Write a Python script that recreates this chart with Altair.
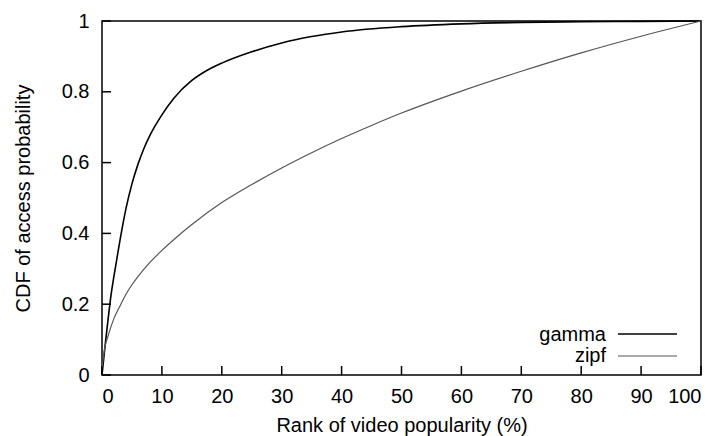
import altair as alt
import pandas as pd

# Data
gamma_x = [0, 0.5, 1, 1.5, 2, 2.5, 3, 4, 5, 6, 7, 8, 10, 12, 15, 17.5, 20, 25, 30, 35, 40, 50, 60, 70, 80, 90, 100]
gamma_y = [0, 0.08, 0.155, 0.225, 0.28, 0.33, 0.38, 0.47, 0.54, 0.595, 0.64, 0.677, 0.735, 0.782, 0.832, 0.86, 0.881, 0.913, 0.938, 0.956, 0.969, 0.984, 0.992, 0.996, 0.998, 0.999, 1.0]

zipf_x = [0, 0.5, 1, 2, 3, 4, 5, 6, 8, 10, 12.5, 15, 20, 25, 30, 35, 40, 45, 50, 60, 70, 80, 90, 100]
zipf_y = [0.02, 0.08, 0.11, 0.16, 0.195, 0.228, 0.255, 0.278, 0.318, 0.352, 0.39, 0.425, 0.487, 0.538, 0.585, 0.628, 0.668, 0.705, 0.74, 0.802, 0.858, 0.91, 0.957, 1.0]

series_names = ["gamma", "zipf"]
series_colors = ["#000000", "#555555"]
x_ticks = [0, 10, 20, 30, 40, 50, 60, 70, 80, 90, 100]
y_ticks = [0, 0.2, 0.4, 0.6, 0.8, 1.0]

W, H = 599, 354
FONT = "Liberation Sans"
FS = 20

df = pd.concat([
    pd.DataFrame({"x": gamma_x, "y": gamma_y, "series": "gamma"}),
    pd.DataFrame({"x": zipf_x, "y": zipf_y, "series": "zipf"}),
])

xscale = alt.Scale(domain=[0, 100], nice=False)
yscale = alt.Scale(domain=[0, 1], nice=False)

lines = alt.Chart(df).mark_line(interpolate="monotone").encode(
    x=alt.X("x:Q", scale=xscale,
            axis=alt.Axis(values=x_ticks, format="d", title="Rank of video popularity (%)",
                          grid=False, domain=False, ticks=False, labelPadding=11,
                          titlePadding=9)),
    y=alt.Y("y:Q", scale=yscale,
            axis=alt.Axis(values=y_ticks, format=".1~f", title="CDF of access probability",
                          grid=False, domain=False, ticks=False, labelPadding=13,
                          titlePadding=28)),
    color=alt.Color("series:N", scale=alt.Scale(domain=series_names, range=series_colors), legend=None),
    strokeWidth=alt.StrokeWidth("series:N", scale=alt.Scale(domain=series_names, range=[1.6, 1.2]), legend=None),
)

xt = alt.Chart(pd.DataFrame({"t": x_ticks})).mark_rule(color="black", strokeWidth=1.5).encode(
    x=alt.X("t:Q", scale=xscale), y=alt.value(H), y2=alt.value(H - 9))
yt = alt.Chart(pd.DataFrame({"t": y_ticks})).mark_rule(color="black", strokeWidth=1.5).encode(
    y=alt.Y("t:Q", scale=yscale), x=alt.value(0), x2=alt.value(9))

leg_g_text = alt.Chart(pd.DataFrame({"n": [series_names[0]]})).mark_text(
    align="right", baseline="alphabetic", font=FONT, fontSize=FS, color="black").encode(
    text="n:N", x=alt.value(504), y=alt.value(320))
leg_z_text = alt.Chart(pd.DataFrame({"n": [series_names[1]]})).mark_text(
    align="right", baseline="alphabetic", font=FONT, fontSize=FS, color="black").encode(
    text="n:N", x=alt.value(504), y=alt.value(341))
leg_g_line = alt.Chart(pd.DataFrame({"n": [series_names[0]]})).mark_rule(
    color=series_colors[0], strokeWidth=1.6).encode(
    x=alt.value(516), x2=alt.value(575), y=alt.value(313))
leg_z_line = alt.Chart(pd.DataFrame({"n": [series_names[1]]})).mark_rule(
    color=series_colors[1], strokeWidth=1.2).encode(
    x=alt.value(516), x2=alt.value(575), y=alt.value(335))

chart = alt.layer(lines, xt, yt, leg_g_text, leg_z_text, leg_g_line, leg_z_line).properties(
    width=W, height=H,
    autosize=alt.AutoSizeParams(type="none"),
    padding={"left": 94, "top": 13, "right": 5, "bottom": 61},
).configure_view(
    stroke="black", strokeWidth=1.5
).configure_axis(
    labelFont=FONT, titleFont=FONT, labelFontSize=FS, titleFontSize=FS,
    labelColor="black", titleColor="black", titleFontWeight="normal",
)

chart.save("out.html", embed_options={"renderer": "svg", "actions": False})
